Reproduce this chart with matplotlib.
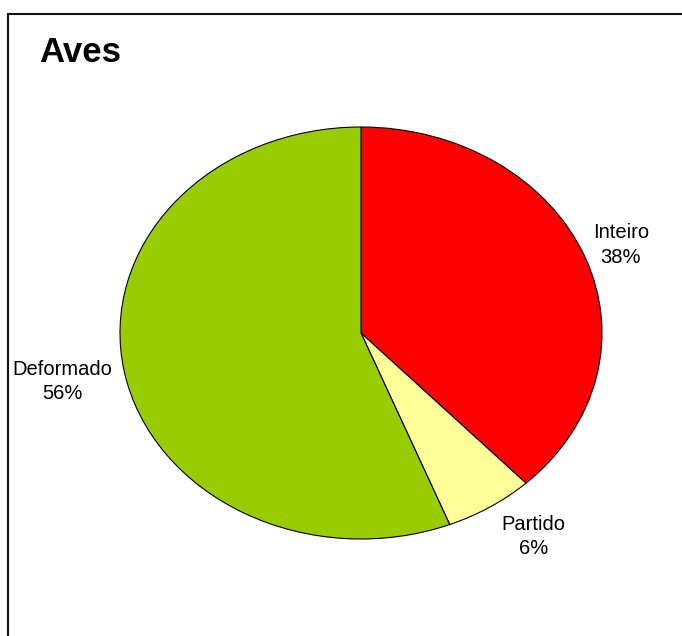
import matplotlib.pyplot as plt
from matplotlib.patches import Rectangle
import numpy as np

plt.rcParams['font.family'] = ['Liberation Sans', 'DejaVu Sans']

# dados
categorias = ['Inteiro', 'Partido', 'Deformado']
valores = [38, 6, 56]
cores = ['#FF0000', '#FFFF99', '#99CC00']
titulo = 'Aves'

W, H = 682, 636
fig = plt.figure(figsize=(W / 100, H / 100), dpi=100)

# moldura (lado direito e de baixo ficam fora da imagem)
fig.patches.append(Rectangle((7.5 / W, -0.1), 1.2, 1 - 13.5 / H + 0.1,
                             transform=fig.transFigure, fill=False,
                             edgecolor='#111111', linewidth=1.5))

fig.text(39 / W, 1 - 52 / H, titulo, fontsize=25, fontweight='bold',
         va='center', ha='left')

# eixo na caixa da elipse
cx, cy, rx, ry = 361, 333, 241, 206
ax = fig.add_axes([(cx - rx) / W, 1 - (cy + ry) / H, 2 * rx / W, 2 * ry / H])
wedges, _ = ax.pie(valores, colors=cores, startangle=90, counterclock=False,
                   wedgeprops=dict(edgecolor='black', linewidth=0.8))
ax.set_aspect('auto')
ax.set_xlim(-1, 1)
ax.set_ylim(-1, 1)
ax.axis('off')

# rótulos (distância radial e ajuste de ângulo, em graus)
dist = [1.16, 1.22, 1.26]
ajuste = [0, 3.5, 0]
for w, cat, v, d, a in zip(wedges, categorias, valores, dist, ajuste):
    ang = np.deg2rad((w.theta1 + w.theta2) / 2 + a)
    ax.text(d * np.cos(ang), d * np.sin(ang), f'{cat}\n{v}%',
            ha='center', va='center', fontsize=14.5, linespacing=1.35,
            clip_on=False)

plt.savefig('out.png', dpi=100)
